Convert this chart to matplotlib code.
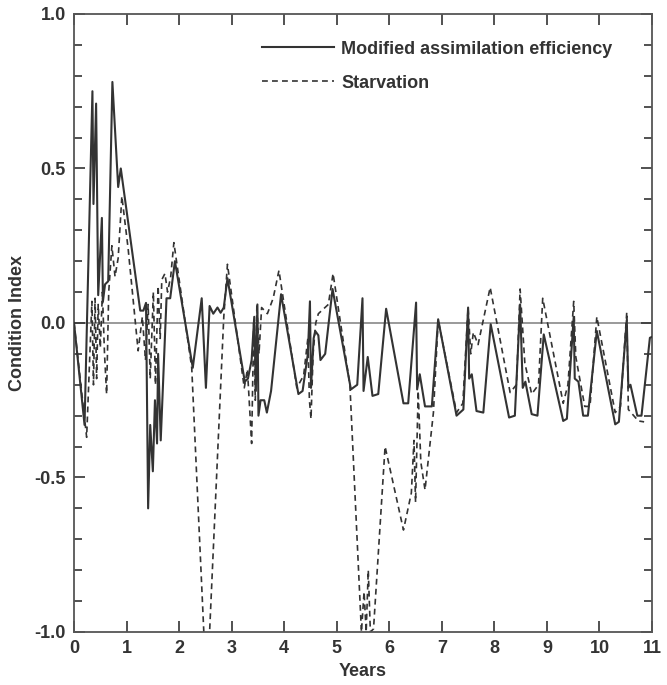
import numpy as np
import matplotlib
matplotlib.use("Agg")
import matplotlib.pyplot as plt
from matplotlib.ticker import MultipleLocator

plt.rcParams['font.family'] = ['Liberation Sans', 'DejaVu Sans']
plt.rcParams['axes.unicode_minus'] = False

# ---- data (years, condition index) ----
mod_years = [0.00, 0.20, 0.35, 0.37, 0.42, 0.46, 0.53, 0.55, 0.59, 0.65, 0.73, 0.84, 0.89,
             1.26, 1.32, 1.37, 1.41, 1.45, 1.50, 1.54, 1.58, 1.60, 1.65, 1.76, 1.83, 1.92,
             2.26, 2.43, 2.51, 2.58, 2.65, 2.73, 2.79, 2.85, 2.92,
             3.25, 3.31, 3.38, 3.43, 3.46, 3.49, 3.51, 3.55, 3.62, 3.67, 3.75, 3.94,
             4.27, 4.35, 4.45, 4.49, 4.51, 4.56, 4.59, 4.65, 4.69, 4.78, 4.92,
             5.27, 5.39, 5.49, 5.51, 5.59, 5.68, 5.79, 5.94,
             6.27, 6.36, 6.51, 6.53, 6.58, 6.68, 6.81, 6.93,
             7.28, 7.41, 7.50, 7.52, 7.57, 7.66, 7.79, 7.93,
             8.28, 8.39, 8.49, 8.54, 8.59, 8.71, 8.82, 8.94,
             9.31, 9.38, 9.51, 9.53, 9.60, 9.69, 9.78, 9.95,
             10.30, 10.37, 10.52, 10.55, 10.59, 10.72, 10.80, 10.96, 11.00]
mod_index = [0.00, -0.33, 0.75, 0.385, 0.71, 0.09, 0.34, 0.07, 0.125, 0.135, 0.78, 0.44, 0.50,
             0.04, 0.04, 0.065, -0.60, -0.33, -0.48, -0.25, -0.39, -0.10, -0.38, 0.08, 0.08, 0.20,
             -0.145, 0.08, -0.21, 0.055, 0.03, 0.05, 0.033, 0.05, 0.145,
             -0.19, -0.18, -0.12, 0.02, -0.22, 0.06, -0.30, -0.25, -0.25, -0.29, -0.22, 0.093,
             -0.23, -0.22, -0.10, 0.07, -0.21, -0.05, -0.026, -0.04, -0.12, -0.10, 0.11,
             -0.215, -0.20, 0.08, -0.22, -0.11, -0.236, -0.23, 0.046,
             -0.26, -0.26, 0.066, -0.215, -0.166, -0.27, -0.27, 0.012,
             -0.30, -0.28, 0.05, -0.18, -0.166, -0.285, -0.29, -0.004,
             -0.306, -0.30, 0.06, -0.21, -0.19, -0.295, -0.30, -0.037,
             -0.317, -0.31, 0.02, -0.18, -0.19, -0.30, -0.30, -0.026,
             -0.328, -0.32, 0.01, -0.21, -0.20, -0.30, -0.30, -0.048, -0.045]

starv_years = [0.00, 0.24, 0.34, 0.37, 0.40, 0.43, 0.46, 0.50, 0.54, 0.58, 0.62, 0.66, 0.72, 0.78,
               0.84, 0.91, 1.03, 1.22, 1.30, 1.36, 1.41, 1.45, 1.51, 1.55, 1.60, 1.64, 1.67,
               1.73, 1.78, 1.84, 1.90, 2.24, 2.47, 2.52, 2.58, 2.85, 2.92,
               3.24, 3.30, 3.38, 3.42, 3.45, 3.48, 3.52, 3.57, 3.68, 3.79, 3.90,
               4.24, 4.37, 4.45, 4.48, 4.51, 4.55, 4.60, 4.65, 4.84, 4.93,
               5.25, 5.47, 5.52, 5.56, 5.60, 5.64, 5.70, 5.92,
               6.27, 6.42, 6.47, 6.50, 6.55, 6.60, 6.68, 6.84, 6.93,
               7.28, 7.40, 7.50, 7.55, 7.60, 7.69, 7.92,
               8.30, 8.42, 8.49, 8.58, 8.71, 8.84, 8.92,
               9.31, 9.40, 9.51, 9.55, 9.72, 9.82, 9.95,
               10.30, 10.40, 10.52, 10.55, 10.74, 10.85]
starv_index = [0.00, -0.37, 0.07, -0.20, 0.08, -0.18, 0.06, -0.08, 0.10, -0.10, -0.23, 0.10, 0.25, 0.15,
               0.21, 0.41, 0.24, -0.09, 0.02, -0.12, 0.06, -0.18, 0.10, -0.20, 0.12, -0.05, 0.14,
               0.16, 0.10, 0.15, 0.26, -0.145, -1.00, -1.05, -1.00, 0.02, 0.19,
               -0.21, -0.15, -0.39, 0.00, -0.25, 0.06, -0.10, 0.05, 0.03, 0.08, 0.17,
               -0.21, -0.17, -0.05, -0.25, -0.31, -0.10, 0.00, 0.03, 0.06, 0.16,
               -0.20, -1.00, -0.87, -1.00, -0.80, -1.00, -0.99, -0.40,
               -0.67, -0.55, -0.38, -0.58, -0.22, -0.45, -0.54, -0.29, 0.01,
               -0.29, -0.26, 0.05, -0.10, -0.03, -0.07, 0.115,
               -0.225, -0.20, 0.11, -0.13, -0.23, -0.20, 0.08,
               -0.26, -0.20, 0.07, -0.11, -0.27, -0.27, 0.02,
               -0.29, -0.27, 0.035, -0.28, -0.317, -0.32]

# ---- plot ----
ink = '#333333'
fig = plt.figure(figsize=(6.67, 6.85), dpi=100)
ax = fig.add_axes([0.111, 0.0774, 0.8665, 0.9022])

ax.axhline(0, color='#9a9a9a', lw=1.4, zorder=1)
ax.plot(mod_years, mod_index, color=ink, lw=1.5, label='Modified assimilation efficiency', zorder=3)
ax.plot(starv_years, starv_index, color=ink, lw=1.2, dashes=(3.5, 2.5),
        label='Starvation', zorder=2)

ax.set_xlim(0, 11)
ax.set_ylim(-1.0, 1.0)
ax.xaxis.set_major_locator(MultipleLocator(1))
ax.yaxis.set_major_locator(MultipleLocator(0.5))
ax.yaxis.set_minor_locator(MultipleLocator(0.1))
ax.set_yticks([-1.0, -0.5, 0.0, 0.5, 1.0])
ax.set_yticklabels(['-1.0', '-0.5', '0.0', '0.5', '1.0'])

ax.tick_params(which='both', direction='in', top=True, right=True, color=ink,
               labelsize=13, labelcolor=ink, width=1.2)
ax.tick_params(which='major', length=8, pad=6)
ax.tick_params(which='minor', length=6)
for lab in ax.get_xticklabels() + ax.get_yticklabels():
    lab.set_fontweight('bold')
for sp in ax.spines.values():
    sp.set_color('#555555')
    sp.set_linewidth(1.3)

ax.set_xlabel('Years', fontsize=13, fontweight='bold', color=ink, labelpad=4)
ax.set_ylabel('Condition Index', fontsize=13, fontweight='bold', color=ink, labelpad=6)

ax.legend(loc='upper left', bbox_to_anchor=(0.325, 0.957), frameon=False,
          prop={'size': 13, 'weight': 'bold'}, labelcolor=ink,
          handlelength=4.0, handletextpad=0.4, labelspacing=0.95,
          borderpad=0, borderaxespad=0)

plt.savefig('out.png', dpi=100)
